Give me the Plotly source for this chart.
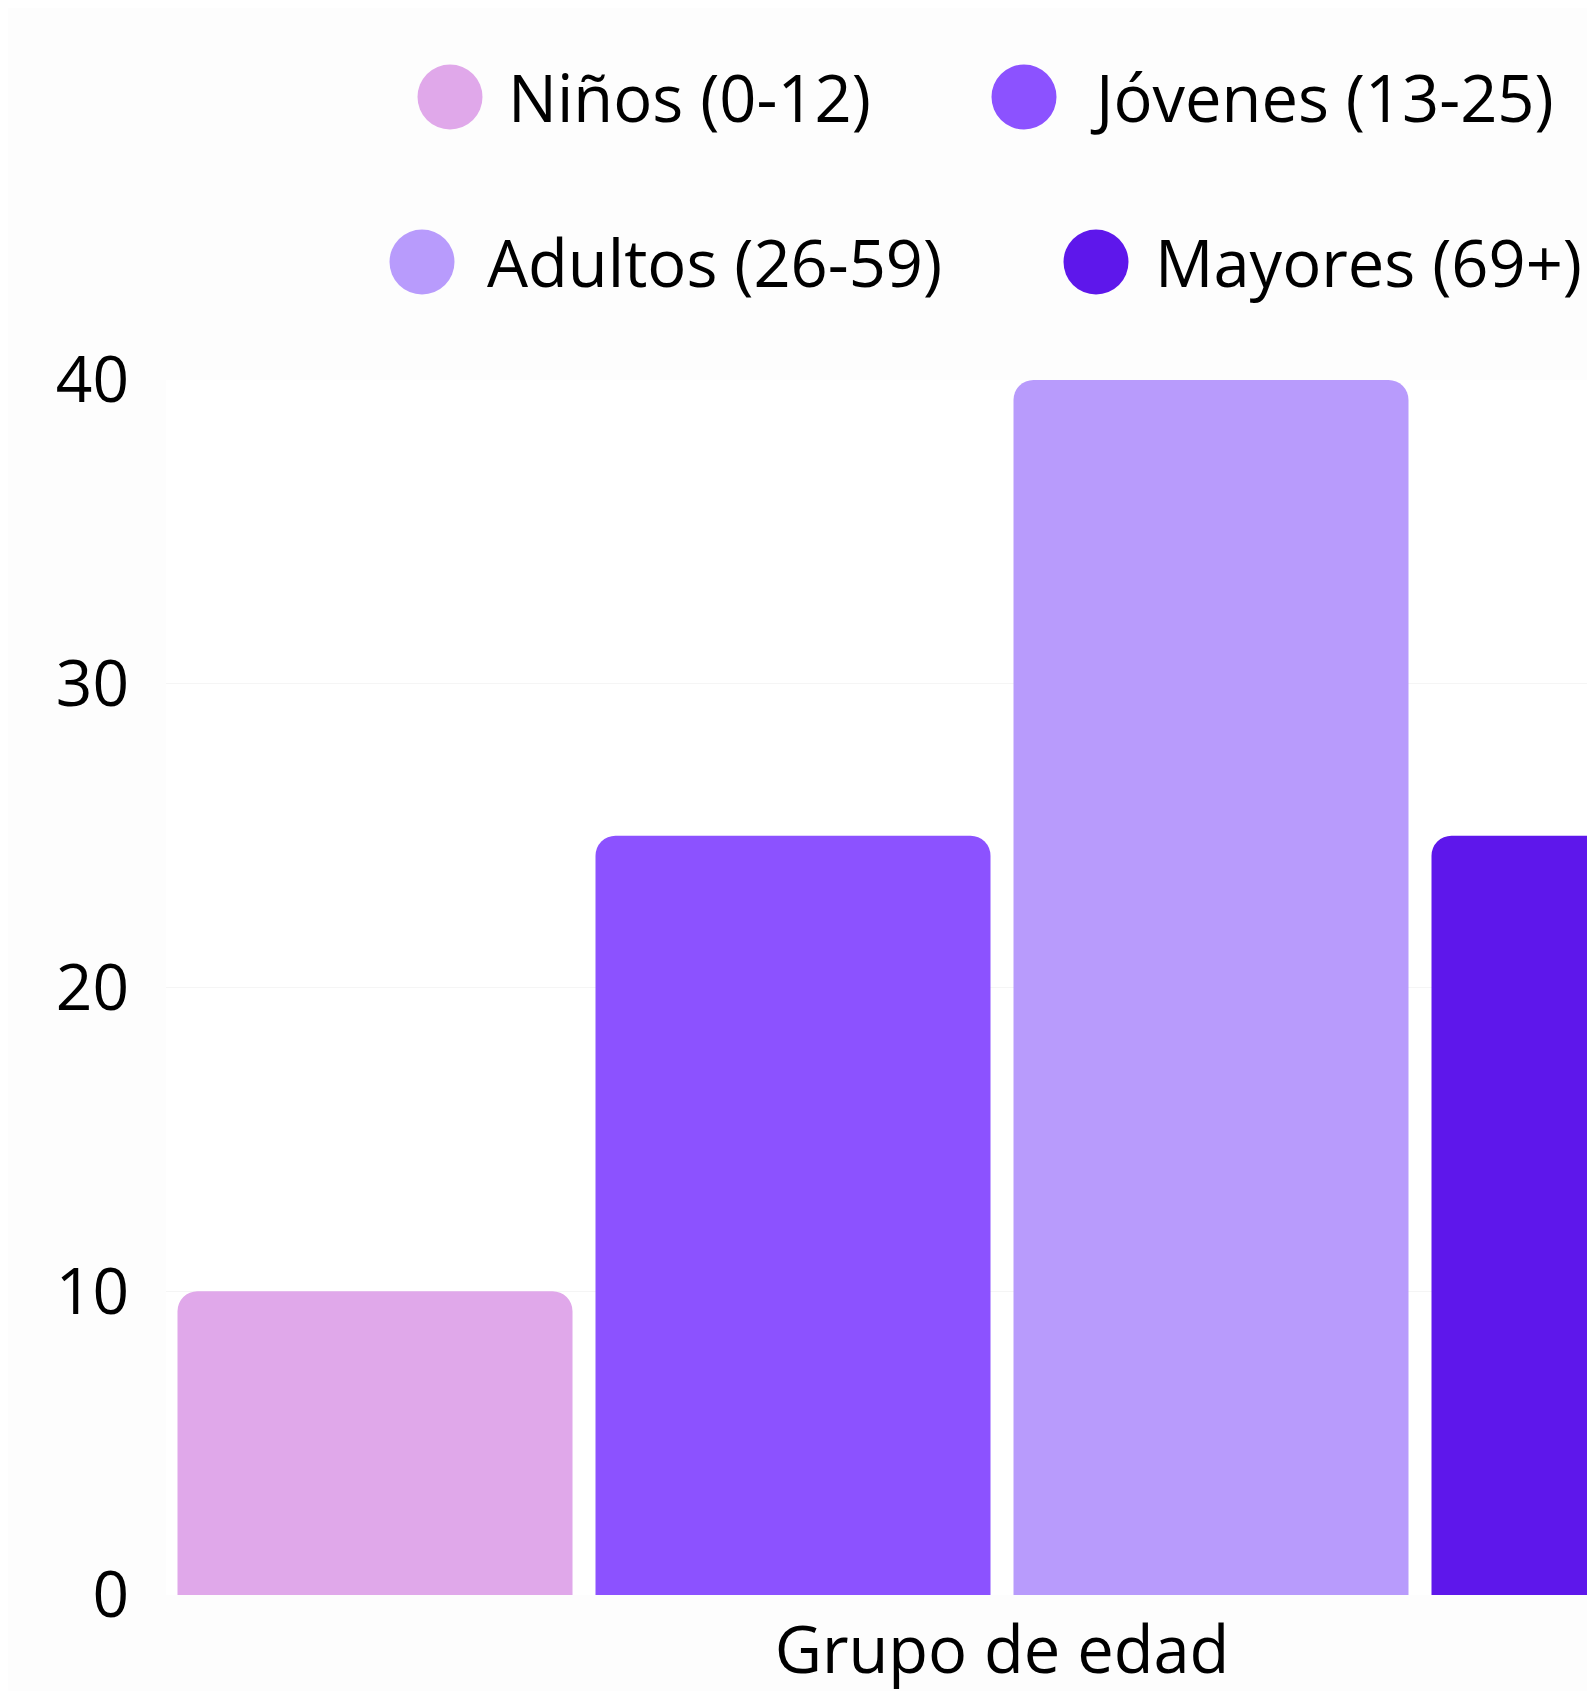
import plotly.graph_objects as go

# ---- data ----
categories = ["Grupo de edad"]
series_names = ["Niños (0-12)", "Jóvenes (13-25)", "Adultos (26-59)", "Mayores (69+)"]
ninos = [10]
jovenes = [25]
adultos = [40]
mayores = [25]
y_ticks = [0, 10, 20, 30, 40]

colors = ["#E0A8EA", "#8C52FF", "#B89BFC", "#5E17EB"]
series_values = [ninos, jovenes, adultos, mayores]

W, H = 1595, 1691
OFF = 8  # page body margin offset
ML, MR, MT, MB = 166 - OFF, OFF, 380 - OFF, 104
PW = W - ML - MR
PH = H - MT - MB
FONT = "Open Sans"

fig = go.Figure()
for name, vals, col in zip(series_names, series_values, colors):
    fig.add_trace(go.Bar(
        x=categories, y=vals, name=name,
        marker=dict(color=col, line=dict(width=0)),
        showlegend=False,
    ))

# custom legend: big circles + text (screen pixel positions of legend items)
legend_items = [
    # (circle center x, text left x, row center y)
    (450, 506, 97),
    (1024, 1088, 97),
    (422, 485, 262),
    (1096, 1153, 262),
]
shapes = []
annotations = []
for (cx, tx, cy), name, col in zip(legend_items, series_names, colors):
    cx, tx, cy = cx - OFF, tx - OFF, cy - OFF
    px = (cx - ML) / PW
    py = (H - MB - cy) / PH
    shapes.append(dict(
        type="circle", xref="paper", yref="paper",
        xsizemode="pixel", ysizemode="pixel",
        xanchor=px, yanchor=py,
        x0=-32.5, x1=32.5, y0=-32.5, y1=32.5,
        fillcolor=col, line=dict(width=0),
    ))
    annotations.append(dict(
        xref="paper", yref="paper",
        x=(tx - ML) / PW, y=(H - MB - cy) / PH,
        xanchor="left", yanchor="middle",
        text=name, showarrow=False,
        font=dict(family=FONT, size=65, color="#000000"),
    ))

fig.update_layout(
    width=W, height=H,
    margin=dict(l=ML, r=MR, t=MT, b=MB, pad=0, autoexpand=False),
    paper_bgcolor="#fdfdfd",
    plot_bgcolor="#ffffff",
    barmode="group",
    bargap=0,
    bargroupgap=0.055,
    barcornerradius=20,
    showlegend=False,
    font=dict(family=FONT, size=64, color="#000000"),
    shapes=shapes,
    annotations=annotations,
    xaxis=dict(
        type="category",
        range=[-0.5, -0.5 + PW / 1672.0],
        automargin=False,
        showgrid=False, zeroline=False, showline=False,
        ticks="", ticklabelstandoff=12,
        tickfont=dict(family=FONT, size=65, color="#000000"),
        fixedrange=True,
    ),
    yaxis=dict(
        range=[0, 40],
        automargin=False,
        tickvals=y_ticks,
        ticktext=[str(v) for v in y_ticks],
        showgrid=True, gridcolor="#f5f5f5", gridwidth=1,
        zeroline=False, showline=False,
        ticks="", ticklabelstandoff=36,
        tickfont=dict(family=FONT, size=64, color="#000000"),
        fixedrange=True,
    ),
)

fig.write_html("out.html")
